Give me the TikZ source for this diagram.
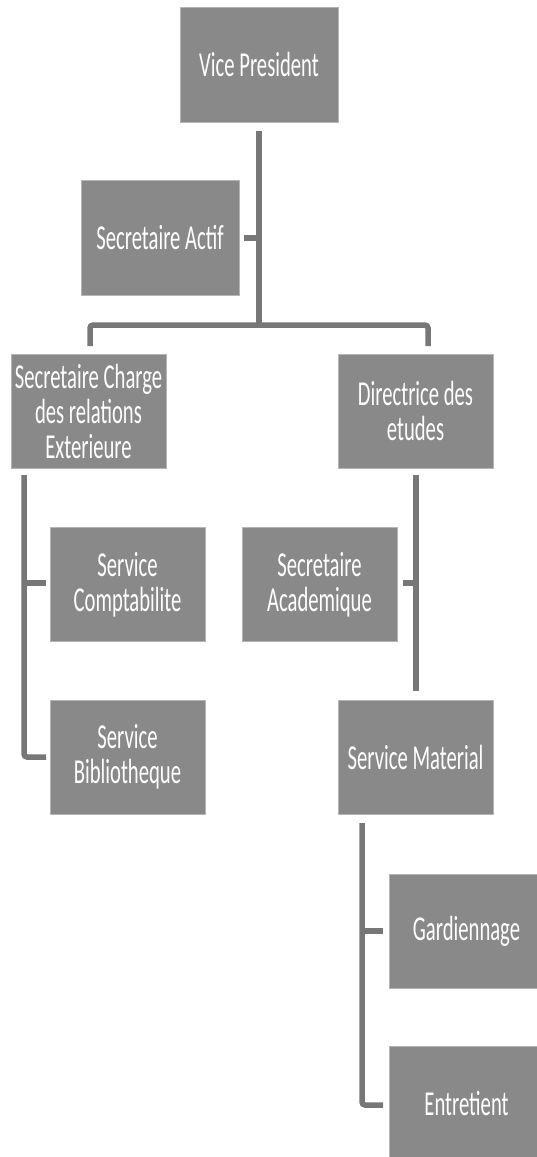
\documentclass[tikz,border=0pt]{standalone}
\usepackage{fontspec}
\setmainfont[FakeStretch=0.59]{Carlito}
\definecolor{boxgray}{HTML}{898989}
\definecolor{linegray}{HTML}{777777}
\definecolor{edgegray}{HTML}{B5B5B5}
\begin{document}
\begin{tikzpicture}[x=1pt,y=-1pt,
  box/.style={fill=boxgray,draw=edgegray,line width=0.8pt,text=white,align=center,
    inner sep=0pt,font=\fontsize{35}{35}\selectfont},
  bigbox/.style={box,minimum width=158,minimum height=115},
  smallbox/.style={box,minimum width=155,minimum height=114},
  conn/.style={draw=linegray,line width=5.5pt,rounded corners=3pt,line cap=butt}]
\useasboundingbox (0,0) rectangle (537,1157);
\clip (0,0) rectangle (537,1157);
\fill[white] (0,0) rectangle (537,1157);
% boxes
\node[bigbox] (vp) at (259,64.5) {Vice President};
\node[bigbox] (sa) at (160,237.5) {Secretaire Actif};
\node[smallbox] (sc) at (88.5,411) {Secretaire Charge\\des relations\\Exterieure};
\node[smallbox] (dd) at (415.5,411) {Directrice des\\etudes};
\node[smallbox] (comp) at (127.5,584.5) {Service\\Comptabilite};
\node[smallbox] (bib) at (127.5,757) {Service\\Bibliotheque};
\node[smallbox] (acad) at (319.5,584.5) {Secretaire\\Academique};
\node[smallbox] (mat) at (415.5,757) {Service Material};
\node[smallbox] (gard) at (466.5,931) {Gardiennage};
\node[smallbox] (ent) at (466.5,1103.5) {Entretient};
% junction coordinates
\coordinate (vpB) at (259,131);
\coordinate (hub) at (259,325);
\coordinate (hL) at (90,325);
\coordinate (hR) at (428,325);
\coordinate (scT) at (90,346);
\coordinate (ddT) at (428,346);
\coordinate (saJ) at (259,238);
\coordinate (saS) at (244,238);
\coordinate (lTop) at (24,475);
\coordinate (lA) at (24,583);
\coordinate (lB) at (24,757);
\coordinate (compS) at (46,583);
\coordinate (bibS) at (46,757);
\coordinate (rTop) at (416,475);
\coordinate (rA) at (416,583);
\coordinate (rBot) at (416,691);
\coordinate (acadS) at (403,583);
\coordinate (bTop) at (362,823);
\coordinate (bA) at (362,931);
\coordinate (bB) at (362,1105);
\coordinate (gardS) at (383,931);
\coordinate (entS) at (383,1105);
% connectors
\draw[conn] (vpB) -- (hub);
\draw[conn] (saS) -- (saJ);
\draw[conn] (scT) -- (hL) -- (hR) -- (ddT);
\draw[conn] (lTop) -- (lB) -- (bibS);
\draw[conn] (lA) -- (compS);
\draw[conn] (rTop) -- (rBot);
\draw[conn] (acadS) -- (rA);
\draw[conn] (bTop) -- (bB) -- (entS);
\draw[conn] (bA) -- (gardS);
\end{tikzpicture}
\end{document}
